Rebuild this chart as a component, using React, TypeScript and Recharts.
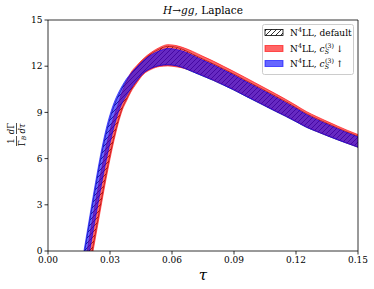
import {
  ComposedChart,
  Area,
  XAxis,
  YAxis,
  ReferenceLine,
  Legend,
} from "recharts";

const FONT = "'DejaVu Serif', serif";

// tau grid and band edges
const tau = [
  0.017, 0.018, 0.019, 0.02, 0.021, 0.022, 0.023, 0.024, 0.025, 0.026, 0.027, 0.028, 0.029, 0.03,
  0.031, 0.032, 0.033, 0.034, 0.035, 0.036, 0.038, 0.04, 0.043, 0.046, 0.05, 0.054, 0.058, 0.062,
  0.066, 0.07, 0.075, 0.08, 0.085, 0.09, 0.095, 0.1, 0.105, 0.11, 0.115, 0.12, 0.125, 0.13, 0.135,
  0.14, 0.145, 0.15,
];

const redLo = [
  -3.6, -2.85, -2.1, -1.35, -0.6, 0.15, 0.9, 1.65, 2.4, 3.15, 3.9, 4.62, 5.31, 5.98, 6.62, 7.22,
  7.78, 8.3, 8.76, 9.17, 9.75, 10.3, 10.92, 11.45, 11.8, 11.98, 12.02, 11.96, 11.86, 11.68, 11.4,
  11.11, 10.81, 10.49, 10.14, 9.8, 9.45, 9.11, 8.78, 8.43, 8.07, 7.78, 7.51, 7.25, 7.0, 6.76,
];
const redHi = [
  -1.5, -0.72, 0.06, 0.85, 1.63, 2.4, 3.17, 3.92, 4.66, 5.37, 6.05, 6.69, 7.27, 7.82, 8.32, 8.77,
  9.18, 9.55, 9.99, 10.37, 11.01, 11.56, 12.05, 12.47, 12.9, 13.22, 13.4, 13.34, 13.18, 12.96, 12.64,
  12.33, 11.99, 11.65, 11.3, 10.94, 10.58, 10.22, 9.85, 9.46, 9.06, 8.73, 8.42, 8.12, 7.83, 7.56,
];
const blueLo = [
  -2.42, -1.65, -0.88, -0.12, 0.65, 1.42, 2.18, 2.93, 3.67, 4.4, 5.11, 5.78, 6.42, 7.01, 7.57, 8.09,
  8.56, 9.0, 9.34, 9.64, 10.09, 10.53, 11.06, 11.53, 11.87, 12.04, 12.09, 12.03, 11.87, 11.64, 11.36,
  11.08, 10.77, 10.45, 10.1, 9.76, 9.42, 9.08, 8.75, 8.4, 8.04, 7.76, 7.49, 7.23, 6.98, 6.74,
];
const blueHi = [
  -0.32, 0.48, 1.28, 2.08, 2.88, 3.67, 4.45, 5.2, 5.93, 6.62, 7.26, 7.85, 8.38, 8.85, 9.27, 9.64,
  9.96, 10.25, 10.51, 10.75, 11.18, 11.51, 11.94, 12.34, 12.74, 13.0, 13.15, 13.09, 12.94, 12.7,
  12.38, 12.08, 11.75, 11.41, 11.05, 10.7, 10.35, 9.99, 9.63, 9.25, 8.86, 8.53, 8.23, 7.94, 7.66, 7.4,
];
const defLo = [
  -3.3, -2.55, -1.8, -1.04, -0.29, 0.47, 1.22, 1.97, 2.72, 3.46, 4.2, 4.91, 5.59, 6.24, 6.86, 7.44,
  7.98, 8.48, 8.92, 9.31, 9.88, 10.41, 11.03, 11.53, 11.87, 12.04, 12.09, 12.03, 11.86, 11.64, 11.36,
  11.08, 10.77, 10.45, 10.1, 9.76, 9.42, 9.08, 8.75, 8.4, 8.04, 7.76, 7.49, 7.23, 6.98, 6.74,
];
const defHi = [
  -0.62, 0.18, 0.98, 1.77, 2.57, 3.35, 4.13, 4.88, 5.61, 6.31, 6.96, 7.56, 8.1, 8.59, 9.03, 9.42,
  9.76, 10.07, 10.35, 10.61, 11.05, 11.45, 11.96, 12.39, 12.81, 13.12, 13.29, 13.23, 13.05, 12.78,
  12.46, 12.15, 11.82, 11.48, 11.12, 10.77, 10.42, 10.06, 9.7, 9.31, 8.92, 8.59, 8.29, 7.99, 7.71,
  7.45,
];

const xTicks = [0, 0.03, 0.06, 0.09, 0.12, 0.15];
const yTicks = [0, 3, 6, 9, 12, 15];

const data = tau.map((t, i) => ({
  tau: t,
  def: [defLo[i], defHi[i]],
  red: [redLo[i], redHi[i]],
  blue: [blueLo[i], blueHi[i]],
}));

const Title = () => (
  <text x={203} y={14} textAnchor="middle" fontFamily={FONT} fontSize={10.5} fill="#000">
    <tspan fontStyle="italic">H</tspan>→<tspan fontStyle="italic">gg</tspan>, Laplace
  </text>
);

const XLabel = () => (
  <text x={203} y={280} textAnchor="middle" fontFamily={FONT} fontSize={15} fontStyle="italic" fill="#000">
    τ
  </text>
);

const YLabel = () => (
  <g transform="translate(16.5,135) rotate(-90)" fontFamily={FONT} fontSize={8.5} fill="#000">
    <text x={-6} y={-2.5} textAnchor="middle">1</text>
    <line x1={-11} x2={-1} y1={0} y2={0} stroke="#000" strokeWidth={0.7} />
    <text x={-6} y={8} textAnchor="middle">
      Γ<tspan fontSize={6} dy={1.5} fontStyle="italic">B</tspan>
    </text>
    <text x={6.5} y={-2.5} textAnchor="middle">
      <tspan fontStyle="italic">d</tspan>Γ
    </text>
    <line x1={1} x2={12} y1={0} y2={0} stroke="#000" strokeWidth={0.7} />
    <text x={6.5} y={8} textAnchor="middle" fontStyle="italic">dτ</text>
  </g>
);

const legendRows = [
  { label: "default", kind: "def" },
  { label: "↓", kind: "red" },
  { label: "↑", kind: "blue" },
];

const LegendBox = () => (
  <svg width={92} height={51} style={{ display: "block" }}>
    <defs>
      <pattern id="hatchLeg" patternUnits="userSpaceOnUse" width={5} height={5}>
        <path d="M-1,1 l2,-2 M0,5 l5,-5 M4,6 l2,-2" stroke="#000" strokeWidth={0.8} />
      </pattern>
    </defs>
    <rect x={0.5} y={0.5} width={91} height={50} rx={2} fill="#fff" fillOpacity={0.8} stroke="#ccc" />
    {legendRows.map((r, i) => {
      const cy = [8.5, 24.5, 39.5][i];
      const patch =
        r.kind === "def" ? (
          <rect x={3} y={cy - 3} width={18} height={6} fill="url(#hatchLeg)" stroke="#000" strokeWidth={0.8} />
        ) : (
          <rect
            x={3}
            y={cy - 3}
            width={18}
            height={6}
            fill={r.kind === "red" ? "#ff0000" : "#0000ff"}
            fillOpacity={0.6}
            stroke={r.kind === "red" ? "#ff0000" : "#0000ff"}
            strokeOpacity={0.6}
          />
        );
      return (
        <g key={r.kind}>
          {patch}
          <text x={28} y={cy + 3.2} fontFamily={FONT} fontSize={9} fill="#000">
            N<tspan fontSize={6.3} dy={-3.5}>4</tspan>
            <tspan dy={3.5}>LL, </tspan>
            {r.kind === "def" ? (
              <tspan>{r.label}</tspan>
            ) : (
              <>
                <tspan fontStyle="italic">c</tspan>
                <tspan fontSize={6.3} fontStyle="italic" dy={2}>S</tspan>
                <tspan fontSize={6.3} dx={-4} dy={-6}>(3)</tspan>
                <tspan dy={4} dx={2}>{r.label}</tspan>
              </>
            )}
          </text>
        </g>
      );
    })}
  </svg>
);

export default function App() {
  const tickStyle = { fill: "#000", fontSize: 9, fontFamily: FONT };
  return (
    <div style={{ position: "absolute", left: 0, top: 0, background: "#fff" }}>
      <ComposedChart
        width={374}
        height={289}
        data={data}
        margin={{ top: 20, right: 16, bottom: 13, left: 20 }}
      >
        <defs>
          <pattern id="hatch" patternUnits="userSpaceOnUse" width={5} height={5}>
            <path d="M-1,1 l2,-2 M0,5 l5,-5 M4,6 l2,-2" stroke="#000" strokeWidth={0.8} />
          </pattern>
        </defs>
        <XAxis
          dataKey="tau"
          type="number"
          domain={[0, 0.15]}
          ticks={xTicks}
          tickFormatter={(v: number) => v.toFixed(2)}
          height={25}
          tick={tickStyle}
          tickSize={3.5}
          tickLine={{ stroke: "#000", strokeWidth: 0.8 }}
          axisLine={{ stroke: "#000", strokeWidth: 0.8 }}
          allowDataOverflow
          label={<XLabel />}
        />
        <YAxis
          type="number"
          domain={[0, 15]}
          ticks={yTicks}
          width={28}
          tick={tickStyle}
          tickSize={3.5}
          tickLine={{ stroke: "#000", strokeWidth: 0.8 }}
          axisLine={{ stroke: "#000", strokeWidth: 0.8 }}
          allowDataOverflow
          label={<YLabel />}
        />
        <Area
          dataKey="def"
          type="monotone"
          fill="url(#hatch)"
          fillOpacity={1}
          stroke="#000"
          strokeWidth={0.6}
          isAnimationActive={false}
          activeDot={false}
        />
        <Area
          dataKey="red"
          type="monotone"
          fill="#ff0000"
          fillOpacity={0.6}
          stroke="#ff0000"
          strokeOpacity={0.6}
          strokeWidth={1}
          isAnimationActive={false}
          activeDot={false}
        />
        <Area
          dataKey="blue"
          type="monotone"
          fill="#0000ff"
          fillOpacity={0.6}
          stroke="#0000ff"
          strokeOpacity={0.6}
          strokeWidth={1}
          isAnimationActive={false}
          activeDot={false}
        />
        <ReferenceLine y={15} stroke="#000" strokeWidth={0.8} label={<Title />} />
        <ReferenceLine x={0.15} stroke="#000" strokeWidth={0.8} />
        <Legend
          layout="vertical"
          align="center"
          verticalAlign="middle"
          wrapperStyle={{ position: "absolute", left: 262, top: 24, width: 92, height: 51 }}
          content={() => <LegendBox />}
        />
      </ComposedChart>
    </div>
  );
}
